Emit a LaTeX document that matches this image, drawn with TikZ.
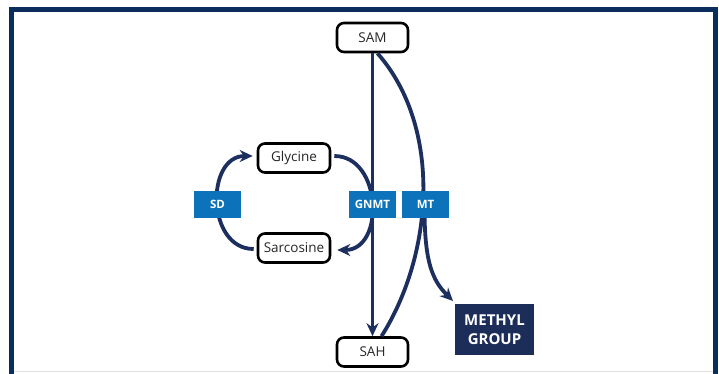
\documentclass[tikz,border=0pt]{standalone}
\usepackage{fontspec}
\setmainfont{Open Sans}
\usetikzlibrary{arrows.meta}
\definecolor{frameblue}{HTML}{0B2D5C}
\definecolor{arrowblue}{HTML}{1C2F5E}
\definecolor{labelblue}{HTML}{0C72B9}
\definecolor{methylblue}{HTML}{1C2D5A}
\tikzset{
  mol/.style={draw=black, line width=2.6pt, rounded corners=7pt, fill=white, minimum width=71pt, minimum height=29pt, inner sep=0pt, font=\fontsize{13.5}{15}\selectfont, text=black!85},
  enz/.style={fill=labelblue, minimum width=47pt, minimum height=27pt, inner sep=0pt, text=white, font=\bfseries\fontsize{11.5}{13}\selectfont},
  flow/.style={draw=arrowblue, line width=3.8pt, -{Stealth[length=13pt,width=12pt]}},
  plain/.style={draw=arrowblue, line width=3.8pt},
}
\begin{document}
\begin{tikzpicture}[x=1pt,y=-1pt]
\useasboundingbox (0,0) rectangle (719,373);
\fill[white] (0,0) rectangle (719,373);
% frame
\draw[line width=1pt, black!12] (14,371.5) -- (713,371.5);
\draw[frameblue, line width=5pt] (11.5,380) -- (11.5,9.5) -- (715.5,9.5) -- (715.5,380);
% molecules
\node[mol] (SAM) at (372.5,37.5) {SAM};
\node[mol] (SAH) at (372.5,352) {SAH};
\node[mol, minimum width=72pt] (Gly) at (294,158) {Glycine};
\node[mol, minimum width=72pt] (Sar) at (294,248) {Sarcosine};
\node[fill=methylblue, minimum width=79pt, minimum height=51pt, inner sep=0pt, text=white, align=center, font=\bfseries\fontsize{15}{19}\selectfont] (ME) at (494.5,329.5) {METHYL\\GROUP};
% connectors
\draw[flow] (SAM.south) -- (SAH.north);
\draw[plain] ([xshift=9pt]SAH.north) .. controls (433,255) and (443,128) .. ([xshift=5pt]SAM.south);
\coordinate (br) at (424.5,212);
\coordinate (tip) at (453,301);
\draw[flow] (br) .. controls (425,262) and (432,280) .. (tip);
\draw[flow] ([xshift=3pt,yshift=2pt]Gly.east) to[out=0,in=0,looseness=1.3] ([xshift=6pt,yshift=-2pt]Sar.east);
\draw[flow] ([xshift=-3pt,yshift=-1pt]Sar.west) to[out=180,in=180,looseness=1.3] ([xshift=-4pt,yshift=2pt]Gly.west);
% enzyme labels
\node[enz] (SD) at (217.5,204.5) {SD};
\node[enz] (GNMT) at (372.5,204.5) {GNMT};
\node[enz] (MT) at (425.5,204.5) {MT};
\end{tikzpicture}
\end{document}
